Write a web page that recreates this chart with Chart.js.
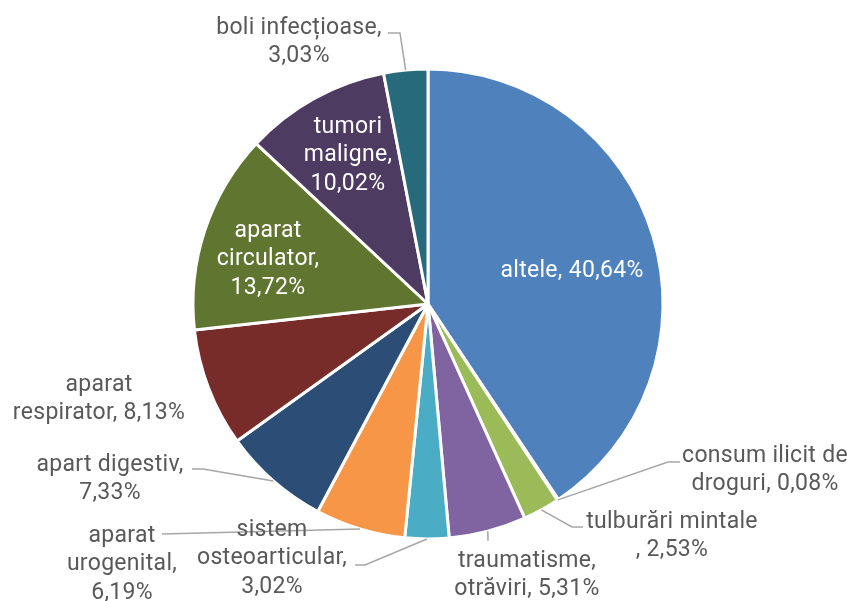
<!DOCTYPE html>
<html>
<head>
<meta charset="utf-8">
<script src="https://cdn.jsdelivr.net/npm/chart.js@4.4.1/dist/chart.umd.min.js"></script>
<style>
  html, body { margin: 0; padding: 0; background: #ffffff; }
  #wrap { width: 847px; height: 601px; position: relative; }
</style>
</head>
<body>
<div id="wrap"><canvas id="c" width="847" height="601"></canvas></div>
<script>
// ---- data ----
const categories = [
  "altele", "consum ilicit de droguri", "tulburări mintale", "traumatisme, otrăviri",
  "sistem osteoarticular", "aparat urogenital", "apart digestiv", "aparat respirator",
  "aparat circulator", "tumori maligne", "boli infecțioase"
];
const values = [40.64, 0.08, 2.53, 5.31, 3.02, 6.19, 7.33, 8.13, 13.72, 10.02, 3.03];
const colors = [
  "#4F81BD", "#C0504D", "#9BBB59", "#8064A2", "#4BACC6", "#F79646",
  "#2C4D75", "#772C2A", "#5F7530", "#4D3B62", "#276A7C"
];
// label text lines ({v} = formatted value)
const labelLines = [
  ["altele, {v}"],
  ["consum ilicit de", "droguri, {v}"],
  ["tulburări mintale", ", {v}"],
  ["traumatisme,", "otrăviri, {v}"],
  ["sistem", "osteoarticular,", "{v}"],
  ["aparat", "urogenital,", "{v}"],
  ["apart digestiv,", "{v}"],
  ["aparat", "respirator, {v}"],
  ["aparat", "circulator,", "{v}"],
  ["tumori", "maligne,", "{v}"],
  ["boli infecțioase,", "{v}"]
];

// ---- label layout (positions of text and leader elbows) ----
const labelLayout = [
  { x: 572, y: 271, inside: true },
  { x: 765, y: 456, leader: [[680, 462], [668, 462]] },
  { x: 672, y: 522, leader: [[583, 527], [572, 527]] },
  { x: 527, y: 561, leader: [[488, 541]] },
  { x: 272, y: 530, leader: [[355, 565], [365, 565]] },
  { x: 122, y: 536, leader: [[162, 534]] },
  { x: 110, y: 465, leader: [[192, 469], [203, 469]] },
  { x: 99, y: 385 },
  { x: 268, y: 231, inside: true },
  { x: 348, y: 127, inside: true },
  { x: 299, y: 28, leader: [[388, 33], [400, 33]] }
];
const LINE_H = 28.7;
const FONT = '400 23px "Roboto", "Liberation Sans", sans-serif';

function fmt(v) { return v.toFixed(2).replace('.', ',') + '%'; }

const labelPlugin = {
  id: 'sliceLabels',
  afterDatasetsDraw(chart) {
    const ctx = chart.ctx;
    const meta = chart.getDatasetMeta(0);
    ctx.save();
    // leader lines
    meta.data.forEach((arc, i) => {
      const lay = labelLayout[i];
      if (!lay || !lay.leader) return;
      const p = arc.getProps(['x', 'y', 'startAngle', 'endAngle', 'outerRadius'], true);
      const mid = (p.startAngle + p.endAngle) / 2;
      const ex = p.x + Math.cos(mid) * p.outerRadius;
      const ey = p.y + Math.sin(mid) * p.outerRadius;
      ctx.beginPath();
      ctx.strokeStyle = '#A6A6A6';
      ctx.lineWidth = 1.5;
      lay.leader.forEach((pt, k) => { if (k === 0) ctx.moveTo(pt[0], pt[1]); else ctx.lineTo(pt[0], pt[1]); });
      ctx.lineTo(ex, ey);
      ctx.stroke();
    });
    // texts
    ctx.font = FONT;
    try { ctx.letterSpacing = '0.3px'; } catch (e) {}
    ctx.textAlign = 'center';
    ctx.textBaseline = 'middle';
    meta.data.forEach((arc, i) => {
      const lay = labelLayout[i];
      const lines = labelLines[i].map(s => s.replace('{v}', fmt(values[i])));
      ctx.fillStyle = lay.inside ? '#FFFFFF' : '#595959';
      lines.forEach((s, k) => ctx.fillText(s, lay.x, lay.y + k * LINE_H));
    });
    ctx.restore();
  }
};

new Chart(document.getElementById('c'), {
  type: 'pie',
  data: {
    labels: categories,
    datasets: [{
      data: values,
      backgroundColor: colors,
      borderColor: '#FFFFFF',
      borderWidth: 3
    }]
  },
  options: {
    responsive: false,
    animation: false,
    radius: 235,
    layout: { padding: { left: 9, right: 0, top: 7, bottom: 0 } },
    plugins: { legend: { display: false }, tooltip: { enabled: false } }
  },
  plugins: [labelPlugin]
});
</script>
</body>
</html>
